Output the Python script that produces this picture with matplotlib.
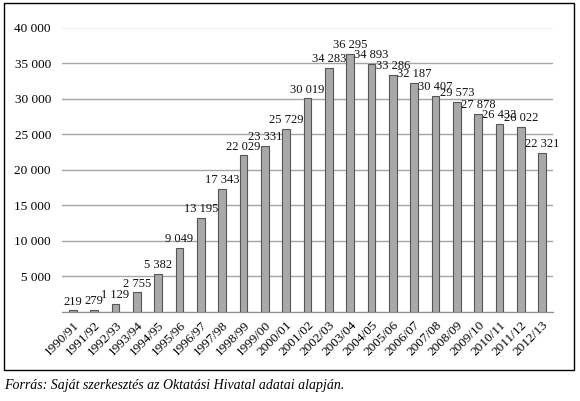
import matplotlib.pyplot as plt
from matplotlib.patches import Rectangle

# tanévek és hallgatói létszám
years = ['1990/91', '1991/92', '1992/93', '1993/94', '1994/95', '1995/96',
         '1996/97', '1997/98', '1998/99', '1999/00', '2000/01', '2001/02',
         '2002/03', '2003/04', '2004/05', '2005/06', '2006/07', '2007/08',
         '2008/09', '2009/10', '2010/11', '2011/12', '2012/13']
students = [219, 279, 1129, 2755, 5382, 9049, 13195, 17343, 22029, 23331,
            25729, 30019, 34283, 36295, 34893, 33286, 32187, 30407, 29573,
            27878, 26433, 26022, 22321]
yticks = [0, 5000, 10000, 15000, 20000, 25000, 30000, 35000, 40000]


def fmt(v):
    return f'{v:,}'.replace(',', ' ')


plt.rcParams['font.family'] = 'Liberation Serif'

fig = plt.figure(figsize=(5.8, 4.01), dpi=100)
ax = fig.add_axes([62 / 580, 1 - 312 / 401, 491 / 580, 284.5 / 401])

x = range(len(years))
ax.bar(x, students, width=0.36, color='#a9a9a9', edgecolor='#555555',
       linewidth=0.8, zorder=3)

for i, v in zip(x, students):
    ax.annotate(fmt(v), (i, v), xytext=(0, 2), textcoords='offset points',
                ha='center', va='bottom', fontsize=9, color='#111111')

ax.set_xlim(-0.5, len(years) - 0.5)
ax.set_ylim(0, 40000)
ax.set_yticks(yticks)
ax.set_yticklabels(['' if t == 0 else fmt(t) for t in yticks], fontsize=9.5)
ax.set_xticks(list(x))
ax.set_xticklabels(years, rotation=45, ha='right', rotation_mode='anchor',
                   fontsize=9.5)
ax.tick_params(axis='x', length=0, pad=5)
ax.tick_params(axis='y', length=0, pad=8)
ax.grid(axis='y', color='#a6a6a6', linewidth=1.0, zorder=0)
for s in ['top', 'right', 'left']:
    ax.spines[s].set_visible(False)
ax.spines['bottom'].set_color('#8c8c8c')
ax.spines['bottom'].set_zorder(4)

# keret
fig.patches.append(Rectangle((4 / 580, 1 - 370 / 401), 570 / 580, 367 / 401,
                             transform=fig.transFigure, fill=False,
                             edgecolor='black', linewidth=1.0))

fig.text(4 / 580, 1 - 386 / 401,
         'Forrás: Saját szerkesztés az Oktatási Hivatal adatai alapján.',
         fontsize=10, style='italic', va='center', ha='left')

fig.savefig('out.png', dpi=100)
